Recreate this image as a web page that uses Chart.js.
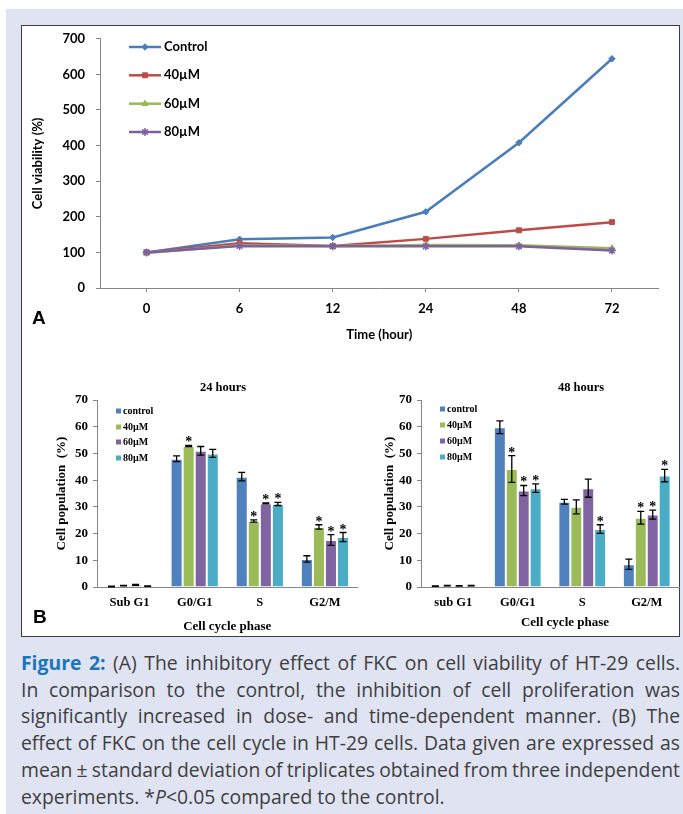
<!DOCTYPE html>
<html><head><meta charset="utf-8">
<script src="https://cdn.jsdelivr.net/npm/chart.js@4.4.1/dist/chart.umd.min.js"></script>
<style>
html,body{margin:0;padding:0;background:#fff;}
body{width:683px;height:814px;position:relative;overflow:hidden;}
#bg{position:absolute;left:6px;top:9px;width:677px;height:805px;background:#dfe3f2;}
#box{position:absolute;left:21px;top:25px;width:659px;height:612px;box-sizing:border-box;background:#fff;border:1.5px solid #3d3d3d;}
canvas{position:absolute;}
.lbl{position:absolute;font-family:'Liberation Sans',Arial,sans-serif;font-weight:bold;font-size:19px;color:#000;line-height:1;}
.ptitle{position:absolute;font-family:'Liberation Serif',serif;font-weight:bold;font-size:12.5px;color:#000;transform:translate(-50%,-50%);white-space:nowrap;}
.xtitle{position:absolute;font-family:'Liberation Serif',serif;font-weight:bold;font-size:13px;color:#000;transform:translate(-50%,-50%);white-space:nowrap;}
#cap{position:absolute;left:21px;top:650px;width:659px;font-family:'Open Sans',sans-serif;font-size:18px;line-height:26.7px;color:#3f3f3f;}
#cap div{white-space:nowrap;}
#cap b{color:#1b75bb;font-weight:700;}
</style></head><body>
<div id="bg"></div>
<div id="box"></div>
<canvas id="cA" width="656" height="330" style="left:22px;top:20px;"></canvas>
<canvas id="cB1" width="345" height="270" style="left:22px;top:370px;"></canvas>
<canvas id="cB2" width="335" height="270" style="left:345px;top:370px;"></canvas>
<div class="lbl" style="left:32px;top:308px;">A</div>
<div class="lbl" style="left:33px;top:607px;">B</div>
<div class="ptitle" style="left:223px;top:387px;">24 hours</div>
<div class="ptitle" style="left:581px;top:387px;">48 hours</div>
<div class="xtitle" style="left:565px;top:622px;">Cell cycle phase</div>
<div id="cap">
<div><span><b>Figure 2:</b> (A) The inhibitory effect of FKC on cell viability of HT-29 cells.</span></div>
<div><span>In comparison to the control, the inhibition of cell proliferation was</span></div>
<div><span>significantly increased in dose- and time-dependent manner. (B) The</span></div>
<div><span>effect of FKC on the cell cycle in HT-29 cells. Data given are expressed as</span></div>
<div><span>mean ± standard deviation of triplicates obtained from three independent</span></div>
<div><span>experiments. *<i>P</i>&lt;0.05 compared to the control.</span></div>
</div>
<script>
// ---------- Panel A data ----------
const timeLabels = ['0','6','12','24','48','72'];
const viabSeriesNames = ['Control','40µM','60µM','80µM'];
const viabControl = [100,137,142,214,408,644];
const viab40 = [100,126,118,138,162,185];
const viab60 = [98,120,118,121,120,112];
const viab80 = [100,118,117,117,117,105];
const viabTicks = [0,100,200,300,400,500,600,700];

// ---------- Panel B data ----------
const phaseLabels24 = ['Sub G1','G0/G1','S','G2/M'];
const phaseLabels48 = ['sub G1','G0/G1','S','G2/M'];
const doseNames = ['control','40µM','60µM','80µM'];
const popTicks = [0,10,20,30,40,50,60,70];

const h24Control = [0.2,48.0,41.3,10.5];
const h24D40 = [0.5,52.8,24.7,22.5];
const h24D60 = [0.8,51.0,31.3,17.6];
const h24D80 = [0.3,50.0,31.1,18.7];
const sd24Control = [0.1,1.1,1.6,1.2];
const sd24D40 = [0.1,0.2,0.4,0.8];
const sd24D60 = [0.2,1.6,0.2,2.0];
const sd24D80 = [0.1,1.5,0.6,1.7];
const sig24Control = [0,0,0,0];
const sig24D40 = [0,1,1,1];
const sig24D60 = [0,0,1,1];
const sig24D80 = [0,0,1,1];

const h48Control = [0.3,59.8,31.9,8.5];
const h48D40 = [0.5,44.2,30.0,25.9];
const h48D60 = [0.4,36.1,37.0,27.1];
const h48D80 = [0.5,37.0,21.7,41.7];
const sd48Control = [0.1,2.4,0.9,1.9];
const sd48D40 = [0.1,5.0,2.6,2.4];
const sd48D60 = [0.1,1.9,3.4,1.7];
const sd48D80 = [0.1,1.6,1.6,2.3];
const sig48Control = [0,0,0,0];
const sig48D40 = [0,1,0,1];
const sig48D60 = [0,1,0,1];
const sig48D80 = [0,1,1,1];

// ---------- styles ----------
const lineColors = ['#4a7ebb','#be4b48','#98b954','#7d60a0'];
const lineMarkers = ['rectRot','rect','triangle','star'];
const barColors = ['#4f81bd','#9bbb59','#8064a2','#4bacc6'];
const axisGray = '#868686';

// caption: fit font so the tight 5th line fills the column, justify lines 1-5
(function fitCaption(){
  const cap = document.getElementById('cap');
  const rows = [...cap.children];
  const W = 659;
  const s5 = rows[4].firstElementChild;
  const w5 = s5.getBoundingClientRect().width;
  const fs = 18 * 667 / w5;
  cap.style.fontSize = fs.toFixed(2) + 'px';
  rows.forEach((r, i) => {
    if (i === rows.length - 1) return;
    const sp = r.firstElementChild;
    const w = sp.getBoundingClientRect().width;
    const n = (sp.textContent.match(/ /g) || []).length;
    if (n) sp.style.wordSpacing = ((W - w) / n).toFixed(3) + 'px';
  });
})();

// custom legend plugin (reads labels/colours from datasets)
const legendPlugin = {
  id: 'customLegend',
  afterDraw(chart, args, o) {
    if (!o || !o.rows) return;
    const ctx = chart.ctx;
    ctx.save();
    chart.data.datasets.forEach((ds, i) => {
      const y = o.rows[i];
      if (o.type === 'line') {
        ctx.strokeStyle = ds.borderColor; ctx.lineWidth = ds.borderWidth;
        ctx.beginPath(); ctx.moveTo(o.x0, y); ctx.lineTo(o.x1, y); ctx.stroke();
        ctx.fillStyle = ds.borderColor; ctx.strokeStyle = ds.borderColor;
        ctx.lineWidth = ds.pointStyle === 'star' ? 1.5 : 1;
        Chart.helpers.drawPoint(ctx, {pointStyle: ds.pointStyle, radius: ds.pointRadius, rotation: 0, borderWidth: ctx.lineWidth}, (o.x0 + o.x1) / 2, y);
      } else {
        ctx.fillStyle = ds.backgroundColor;
        ctx.fillRect(o.x0, y - o.size / 2, o.size, o.size);
      }
      ctx.fillStyle = '#000';
      ctx.font = o.font;
      ctx.textAlign = 'left'; ctx.textBaseline = 'middle';
      ctx.fillText(ds.label, o.tx, y + (o.dy || 0));
    });
    ctx.restore();
  }
};

// error bars + significance stars
const errorPlugin = {
  id: 'errorBars',
  afterDatasetsDraw(chart) {
    const ctx = chart.ctx, ys = chart.scales.y;
    ctx.save();
    chart.data.datasets.forEach((ds, di) => {
      if (!ds.errors) return;
      const meta = chart.getDatasetMeta(di);
      meta.data.forEach((bar, i) => {
        const v = ds.data[i], e = ds.errors[i];
        const top = ys.getPixelForValue(v + e), bot = ys.getPixelForValue(Math.max(0, v - e));
        ctx.strokeStyle = '#000'; ctx.lineWidth = 1.3;
        ctx.beginPath();
        ctx.moveTo(bar.x, top); ctx.lineTo(bar.x, bot);
        ctx.moveTo(bar.x - 3.5, top); ctx.lineTo(bar.x + 3.5, top);
        ctx.moveTo(bar.x - 3.5, bot); ctx.lineTo(bar.x + 3.5, bot);
        ctx.stroke();
        if (ds.sig && ds.sig[i]) {
          ctx.fillStyle = '#000';
          ctx.font = 'bold 14px "Liberation Serif", serif';
          ctx.textAlign = 'center'; ctx.textBaseline = 'alphabetic';
          ctx.fillText('*', bar.x, top + 1);
        }
      });
    });
    ctx.restore();
  }
};

Chart.defaults.animation = false;
Chart.defaults.responsive = false;
Chart.defaults.devicePixelRatio = 1;

// ---------- Panel A ----------
const fontA = {family: 'Lato, sans-serif', weight: 'bold', size: 13};
const viabData = [viabControl, viab40, viab60, viab80];
new Chart(document.getElementById('cA'), {
  type: 'line',
  data: {
    labels: timeLabels,
    datasets: viabData.map((d, i) => ({
      label: viabSeriesNames[i], data: d,
      borderColor: lineColors[i], backgroundColor: lineColors[i],
      pointBackgroundColor: lineColors[i], pointBorderColor: lineColors[i],
      borderWidth: 2.5, pointStyle: lineMarkers[i],
      pointRadius: i === 0 ? 3.2 : (i === 3 ? 4 : 3.5),
      pointBorderWidth: i === 3 ? 1.5 : 1, tension: 0, order: 4 - i
    }))
  },
  options: {
    layout: {padding: {left: 0, top: 12, right: 19.5, bottom: 0}},
    plugins: {
      legend: {display: false}, tooltip: {enabled: false},
      customLegend: {type: 'line', x0: 107, x1: 139, tx: 142, rows: [27, 55.3, 83.7, 112], font: 'bold 13px Lato, sans-serif', dy: 0}
    },
    scales: {
      x: {
        offset: true,
        grid: {offset: false, drawOnChartArea: false, drawTicks: true, tickLength: 4, color: axisGray},
        border: {color: axisGray, width: 1},
        ticks: {font: fontA, color: '#000', padding: 9, maxRotation: 0},
        title: {display: true, text: 'Time (hour)', font: fontA, color: '#000', padding: {top: 2, bottom: 7}},
        afterFit: s => { s.height = 62; }
      },
      y: {
        min: 0, max: 700,
        afterBuildTicks: s => { s.ticks = viabTicks.map(v => ({value: v})); },
        grid: {drawOnChartArea: false, drawTicks: true, tickLength: 4, color: axisGray},
        border: {color: axisGray, width: 1},
        ticks: {font: fontA, color: '#000', padding: 11},
        title: {display: true, text: 'Cell viability (%)', font: fontA, color: '#000', padding: {top: 8, bottom: 0}},
        afterFit: s => { s.width = 78; }
      }
    }
  },
  plugins: [legendPlugin]
});

// ---------- Panel B ----------
const serifTick = {family: '"Liberation Serif", serif', weight: 'bold', size: 13};
const serifX = {family: '"Liberation Serif", serif', weight: 'bold', size: 12.5};
function makeBar(id, labels, vals, sds, sigs, L) {
  new Chart(document.getElementById(id), {
    type: 'bar',
    data: {
      labels: labels,
      datasets: vals.map((d, i) => ({
        label: doseNames[i], data: d, errors: sds[i], sig: sigs[i],
        backgroundColor: barColors[i], borderColor: 'rgba(255,255,255,0.85)', borderWidth: 1,
        categoryPercentage: 0.74, barPercentage: 1
      }))
    },
    options: {
      layout: {padding: {left: 0, top: 30, right: L.padR, bottom: 0}},
      plugins: {
        legend: {display: false}, tooltip: {enabled: false},
        customLegend: {type: 'square', x0: L.lx, size: 5, tx: L.lx + 7, rows: L.rows, font: 'bold 10px "Liberation Serif", serif', dy: 0.5}
      },
      scales: {
        x: {
          grid: {drawOnChartArea: false, drawTicks: false, color: axisGray},
          border: {color: axisGray, width: 1},
          ticks: {font: serifX, color: '#000', padding: 8.5, maxRotation: 0},
          title: {display: L.xTitle, text: 'Cell cycle phase', font: serifTick, color: '#000', padding: {top: 2, bottom: L.xtPad}},
          afterFit: s => { s.height = 53; }
        },
        y: {
          min: 0, max: 70,
          afterBuildTicks: s => { s.ticks = popTicks.map(v => ({value: v})); },
          grid: {drawOnChartArea: false, drawTicks: true, tickLength: 4, color: axisGray},
          border: {color: axisGray, width: 1},
          ticks: {font: serifTick, color: '#000', padding: 5},
          title: {display: true, text: 'Cell population  (%)', font: serifTick, color: '#000', padding: {top: L.ytPad, bottom: 0}},
          afterFit: s => { s.width = L.yw; }
        }
      }
    },
    plugins: [errorPlugin, legendPlugin]
  });
}
makeBar('cB1', phaseLabels24,
  [h24Control, h24D40, h24D60, h24D80],
  [sd24Control, sd24D40, sd24D60, sd24D80],
  [sig24Control, sig24D40, sig24D60, sig24D80],
  {padR: 9.5, yw: 75, ytPad: 32, xtPad: 6, xTitle: true, lx: 94, rows: [41, 57, 72, 88]});
makeBar('cB2', phaseLabels48,
  [h48Control, h48D40, h48D60, h48D80],
  [sd48Control, sd48D40, sd48D60, sd48D80],
  [sig48Control, sig48D40, sig48D60, sig48D80],
  {padR: 1, yw: 76, ytPad: 37, xtPad: 10, xTitle: false, lx: 95, rows: [39, 55, 71, 87]});
</script>
</body></html>
